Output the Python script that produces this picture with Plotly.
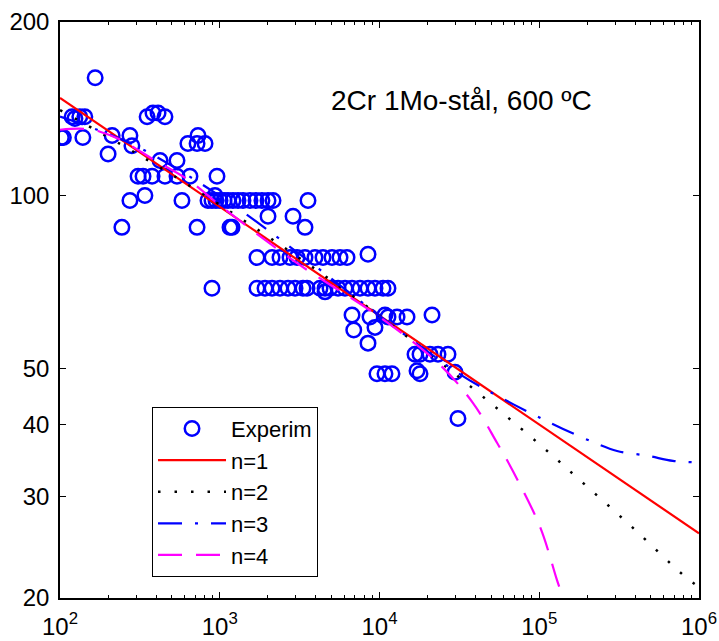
import plotly.graph_objects as go

# ---------------- data ----------------
exp_time = [102, 105, 119, 124, 133, 143, 139, 166, 200, 212, 274, 282, 244, 274, 340,
            351, 382, 411, 454, 423, 540, 308, 331, 377, 454, 540, 651, 580, 632, 731,
            809, 721, 721, 961, 934, 1159,
            844, 894, 947, 1004, 1064, 1127, 1210, 1301, 1398, 1546, 1686, 1837, 2005, 2155, 3568,
            2005, 2876, 3417, 1194, 894,
            1710, 2125, 2384, 2754, 3045, 3417, 3946, 4430, 5043, 5659, 6260, 8474,
            1710, 1920, 2125, 2384, 2675, 2960, 3320, 3518, 4242, 4560, 4900, 5500, 6083,
            6730, 7551, 8474, 9370, 10520, 11300, 4560,
            6730, 6900, 8474, 8722, 9370, 10822, 11300, 12880, 14870, 21320,
            16680, 17930, 20700, 23240, 26840,
            9643, 10822, 11970, 17170, 17930, 29700, 30980]
exp_stress = [126, 126, 137, 136, 137, 137, 126, 160, 118, 127, 127, 122, 88, 98, 100,
              137, 139, 139, 137, 115, 115, 108, 108, 108, 108, 108, 108, 98, 123, 127,
              123, 123, 88, 108, 100, 88,
              98, 98, 98, 98, 98, 98, 98, 98, 98, 98, 98, 98, 98, 98, 98,
              92, 92, 88, 88, 69,
              78, 78, 78, 78, 78, 78, 78, 78, 78, 78, 78, 79,
              69, 69, 69, 69, 69, 69, 69, 69, 69, 69, 69, 69, 69,
              69, 69, 69, 69, 69, 69, 68,
              62, 58.4, 55.4, 61.5, 59, 62, 61.5, 61.5, 61.5, 62,
              53, 53, 53, 53, 53,
              49, 49, 49, 49.6, 49, 49.3, 41]

n1_time = [100, 1e3, 1e4, 1e5, 1e6]
n1_stress = [147.6, 95.5, 61.8, 40.0, 25.9]

n2_time = [100, 316, 1000, 3160, 1e4, 3.16e4, 1e5, 1.9e5, 3.9e5, 8e5, 1e6]
n2_stress = [140.6, 117.3, 96.3, 77.8, 61.8, 48.3, 37.0, 31.6, 26.4, 21.9, 20.9]

n3_time = [100, 171, 316, 1000, 3160, 1e4, 3.16e4, 5.06e4, 1.01e5, 1.41e5, 2.17e5,
           3.07e5, 4.8e5, 6.87e5, 1e6]
n3_stress = [137, 130, 120.9, 99.8, 79.1, 61.8, 49.0, 45.4, 41.1, 39.3, 37.3,
             36.0, 35.3, 34.6, 34.4]

n4_time = [100, 140, 178, 245, 393, 632, 1030, 3000, 1e4, 2.39e4, 3.85e4, 5.44e4,
           6.85e4, 1.01e5, 1.29e5, 1.388e5, 1.5e5]
n4_stress = [130, 130.5, 129, 124.5, 115, 106.5, 95.5, 76.5, 61.5, 50.8, 43.6, 37.2,
             33.2, 26.6, 21.5, 20.2, 18.5]

x_tickvals = [1e2, 1e3, 1e4, 1e5, 1e6]
x_ticktext = ["10<sup>2</sup>", "10<sup>3</sup>", "10<sup>4</sup>", "10<sup>5</sup>", "10<sup>6</sup>"]
x_minor = [m * 10 ** e for e in range(2, 6) for m in range(2, 10)]
y_tickvals = [20, 30, 40, 50, 100, 200]
y_ticktext = ["20", "30", "40", "50", "100", "200"]

FONT = "Liberation Sans, Arial, sans-serif"

fig = go.Figure()
fig.add_trace(go.Scatter(
    x=exp_time, y=exp_stress, mode="markers", name="Experim",
    marker=dict(symbol="circle-open", size=14.5, color="#0000FF",
                line=dict(color="#0000FF", width=2.5)),
))
fig.add_trace(go.Scatter(
    x=n1_time, y=n1_stress, mode="lines", name="n=1",
    line=dict(color="#FF0000", width=2.2),
))
fig.add_trace(go.Scatter(
    x=n2_time, y=n2_stress, mode="lines", name="n=2",
    line=dict(color="black", width=2.5, dash="2.5px,14px", shape="spline"),
))
fig.add_trace(go.Scatter(
    x=n3_time, y=n3_stress, mode="lines", name="n=3",
    line=dict(color="#0000FF", width=2.2, dash="24px,13px,3px,13px", shape="spline"),
))
fig.add_trace(go.Scatter(
    x=n4_time, y=n4_stress, mode="lines", name="n=4",
    line=dict(color="#FF00FF", width=2.2, dash="24px,14px", shape="spline"),
))

fig.update_layout(
    width=719, height=641,
    margin=dict(l=60, r=20, t=22, b=43, autoexpand=False),
    paper_bgcolor="white", plot_bgcolor="white",
    font=dict(family=FONT, size=24, color="black"),
    showlegend=True,
    legend=dict(
        x=0.144, y=0.332, xanchor="left", yanchor="top",
        bgcolor="white", bordercolor="black", borderwidth=1,
        font=dict(family=FONT, size=22, color="black"),
        itemwidth=68, tracegroupgap=0,
    ),
    annotations=[dict(
        text="2Cr 1Mo-stål, 600 ºC", xref="paper", yref="paper",
        x=0.629, y=0.863, xanchor="center", yanchor="middle", showarrow=False,
        font=dict(family=FONT, size=28, color="black"),
    )],
)

fig.update_xaxes(
    type="log", range=[2, 6], automargin=False,
    tickmode="array", tickvals=x_tickvals, ticktext=x_ticktext,
    ticks="inside", ticklen=6, tickwidth=1, tickcolor="black",
    showline=True, linecolor="black", linewidth=1.5, mirror="ticks",
    showgrid=False, zeroline=False,
    ticklabelstandoff=6,
    tickfont=dict(family=FONT, size=24, color="black"),
    minor=dict(tickmode="array", tickvals=x_minor, ticks="inside", ticklen=3,
               tickwidth=1, tickcolor="black", showgrid=False),
)
fig.update_yaxes(
    type="log", range=[1.30103, 2.30103], automargin=False,
    tickmode="array", tickvals=y_tickvals, ticktext=y_ticktext,
    ticks="inside", ticklen=6, tickwidth=1, tickcolor="black",
    showline=True, linecolor="black", linewidth=1.5, mirror="ticks",
    showgrid=False, zeroline=False,
    ticklabelstandoff=4,
    tickfont=dict(family=FONT, size=24, color="black"),
)

fig.write_html("out.html")
